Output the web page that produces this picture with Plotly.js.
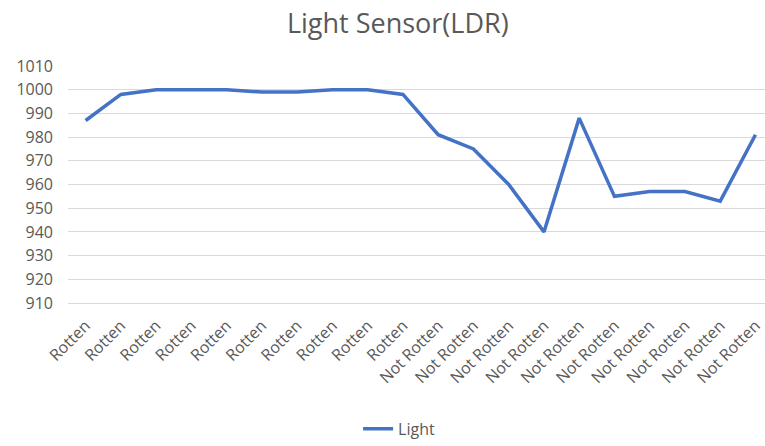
<!DOCTYPE html>
<html>
<head>
<meta charset="utf-8">
<script src="https://cdn.plot.ly/plotly-3.0.1.min.js"></script>
<style>html,body{margin:0;padding:0;background:#fff;}#chart{width:765px;height:446px;}</style>
</head>
<body>
<div id="chart"></div>
<script>
const labels = ["Rotten","Rotten","Rotten","Rotten","Rotten","Rotten","Rotten","Rotten","Rotten","Rotten",
  "Not Rotten","Not Rotten","Not Rotten","Not Rotten","Not Rotten","Not Rotten","Not Rotten","Not Rotten","Not Rotten","Not Rotten"];
const light = [987, 998, 1000, 1000, 1000, 999, 999, 1000, 1000, 998,
  981, 975, 960, 940, 988, 955, 957, 957, 953, 981];
const seriesName = "Light";
const yTicks = [910, 920, 930, 940, 950, 960, 970, 980, 990, 1000, 1010];

const idx = labels.map((_, i) => i);
const trace = {
  x: idx, y: light, type: 'scatter', mode: 'lines', name: seriesName,
  line: {color: '#4472C4', width: 3.5}
};
const fam = 'Open Sans, Liberation Sans, sans-serif';
const layout = {
  width: 765, height: 446,
  margin: {l: 68, r: 0, t: 66, b: 139},
  paper_bgcolor: '#fff', plot_bgcolor: '#fff',
  title: {text: 'Light Sensor(LDR)', x: 0.52, xanchor: 'center', xref: 'container', y: 0.948, yanchor: 'middle',
    automargin: false, font: {family: fam, color: '#595959', size: 27}},
  xaxis: {
    range: [-0.5, 19.27], tickmode: 'array', tickvals: idx, ticktext: labels, automargin: false,
    tickangle: -45, showgrid: false, zeroline: false, showline: true, linecolor: '#d9d9d9', linewidth: 1,
    ticks: '', ticklabelstandoff: 6, tickfont: {family: fam, color: '#595959', size: 16}, fixedrange: true
  },
  yaxis: {
    range: [910, 1010], tickmode: 'array', tickvals: yTicks, ticktext: yTicks.map(String), automargin: false,
    showgrid: true, gridcolor: '#d9d9d9', gridwidth: 1, zeroline: false, showline: false,
    ticks: '', ticklabelstandoff: 14, tickfont: {family: fam, color: '#595959', size: 16}
  },
  showlegend: true,
  legend: {orientation: 'h', x: 0.475, xanchor: 'center', y: -0.531, yanchor: 'middle',
    font: {family: fam, color: '#595959', size: 16}}
};
Plotly.newPlot('chart', [trace], layout, {displayModeBar: false, staticPlot: true});
</script>
</body>
</html>
